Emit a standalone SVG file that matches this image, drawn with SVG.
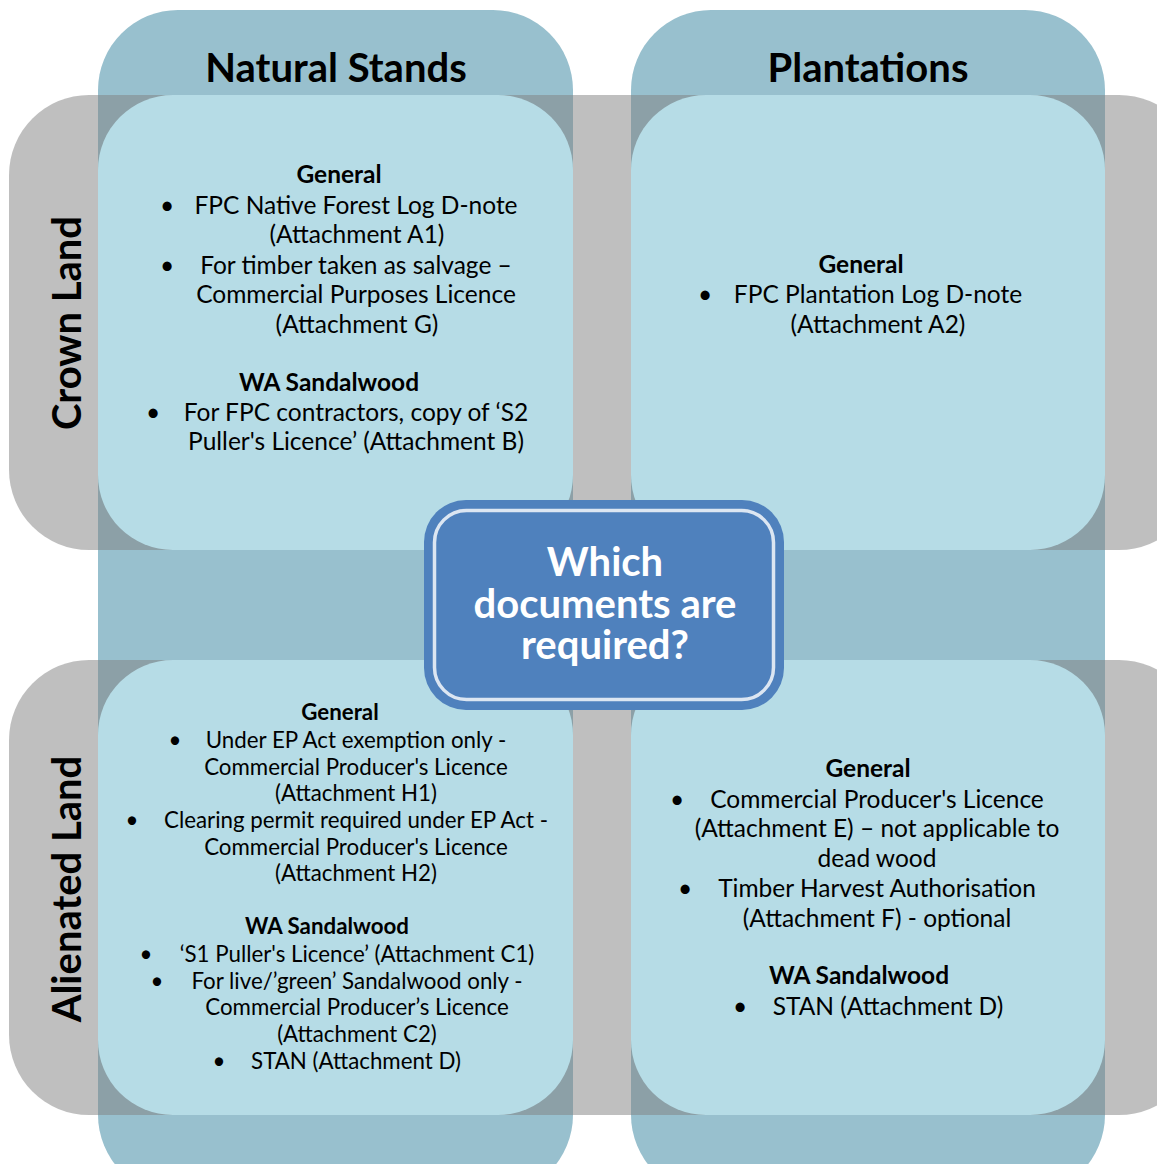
<svg xmlns="http://www.w3.org/2000/svg" width="1157" height="1164" viewBox="0 0 1157 1164">
<style>
.col{fill:#98c0ce}
.row{fill:#7f7f7f;fill-opacity:0.5}
.quad{fill:#b6dce6}
text{font-family:Lato,"Liberation Sans",sans-serif;fill:#000}
.hdr{font-size:40px;font-weight:bold;text-anchor:middle}
.t{font-size:24.5px;text-anchor:middle}
.s{font-size:22.3px;text-anchor:middle}
.b{font-weight:bold}
.ctr{font-size:40px;font-weight:bold;fill:#fff;text-anchor:middle}
</style>
<rect width="1157" height="1164" fill="#fff"/>
<g id="col-natural">
<rect class="col" x="98" y="10" width="475" height="1185" rx="80"/>
<text class="hdr" x="336" y="82">Natural Stands</text>
</g>
<g id="col-plantations">
<rect class="col" x="631" y="10" width="474" height="1185" rx="80"/>
<text class="hdr" x="868" y="82">Plantations</text>
</g>
<g id="row-crown">
<rect class="row" x="9" y="95" width="1190" height="455" rx="80"/>
<text class="hdr" transform="translate(81,323) rotate(-90)">Crown Land</text>
</g>
<g id="row-alienated">
<rect class="row" x="9" y="660" width="1190" height="455" rx="80"/>
<text class="hdr" transform="translate(81,889) rotate(-90)">Alienated Land</text>
</g>
<g id="q-crown-natural">
<rect class="quad" x="98" y="95" width="475" height="455" rx="75"/>
<text class="t b" x="339" y="183">General</text>
<text class="t" x="167" y="214">•</text>
<text class="t" x="356" y="214">FPC Native Forest Log D-note</text>
<text class="t" x="357" y="243">(Attachment A1)</text>
<text class="t" x="167" y="274">•</text>
<text class="t" x="356" y="274">For timber taken as salvage –</text>
<text class="t" x="356" y="303">Commercial Purposes Licence</text>
<text class="t" x="357" y="333">(Attachment G)</text>
<text class="t b" x="329" y="391">WA Sandalwood</text>
<text class="t" x="153" y="421">•</text>
<text class="t" x="356" y="421">For FPC contractors, copy of ‘S2</text>
<text class="t" x="356" y="450">Puller's Licence’ (Attachment B)</text>
</g>
<g id="q-crown-plantations">
<rect class="quad" x="631" y="95" width="474" height="455" rx="75"/>
<text class="t b" x="861" y="273">General</text>
<text class="t" x="705" y="303">•</text>
<text class="t" x="878" y="303">FPC Plantation Log D-note</text>
<text class="t" x="878" y="333">(Attachment A2)</text>
</g>
<g id="q-alienated-natural">
<rect class="quad" x="98" y="660" width="475" height="455" rx="75"/>
<text class="s b" x="340" y="720">General</text>
<text class="s" x="175" y="748">•</text>
<text class="s" x="356" y="748">Under EP Act exemption only -</text>
<text class="s" x="356" y="775">Commercial Producer's Licence</text>
<text class="s" x="356" y="801">(Attachment H1)</text>
<text class="s" x="132" y="828">•</text>
<text class="s" x="356" y="828">Clearing permit required under EP Act -</text>
<text class="s" x="356" y="855">Commercial Producer's Licence</text>
<text class="s" x="356" y="881">(Attachment H2)</text>
<text class="s b" x="327" y="934">WA Sandalwood</text>
<text class="s" x="146" y="962">•</text>
<text class="s" x="357" y="962">‘S1 Puller's Licence’ (Attachment C1)</text>
<text class="s" x="157" y="989">•</text>
<text class="s" x="357" y="989">For live/’green’ Sandalwood only -</text>
<text class="s" x="357" y="1015">Commercial Producer’s Licence</text>
<text class="s" x="357" y="1042">(Attachment C2)</text>
<text class="s" x="219" y="1069">•</text>
<text class="s" x="356" y="1069">STAN (Attachment D)</text>
</g>
<g id="q-alienated-plantations">
<rect class="quad" x="631" y="660" width="474" height="455" rx="75"/>
<text class="t b" x="868" y="777">General</text>
<text class="t" x="677" y="808">•</text>
<text class="t" x="877" y="808">Commercial Producer's Licence</text>
<text class="t" x="877" y="837">(Attachment E) – not applicable to</text>
<text class="t" x="877" y="867">dead wood</text>
<text class="t" x="685" y="897">•</text>
<text class="t" x="877" y="897">Timber Harvest Authorisation</text>
<text class="t" x="877" y="927">(Attachment F) - optional</text>
<text class="t b" x="859" y="984">WA Sandalwood</text>
<text class="t" x="740" y="1015">•</text>
<text class="t" x="888" y="1015">STAN (Attachment D)</text>
</g>
<g id="connectors"></g>
<g id="center">
<rect x="424" y="500" width="360" height="210" rx="42" fill="#4f81bd"/>
<rect x="434.5" y="510.5" width="339" height="189" rx="32" fill="none" stroke="#dce6f2" stroke-width="3.5"/>
<text class="ctr" x="605" y="576">Which</text>
<text class="ctr" x="605" y="618">documents are</text>
<text class="ctr" x="605" y="659">required?</text>
</g>
</svg>
